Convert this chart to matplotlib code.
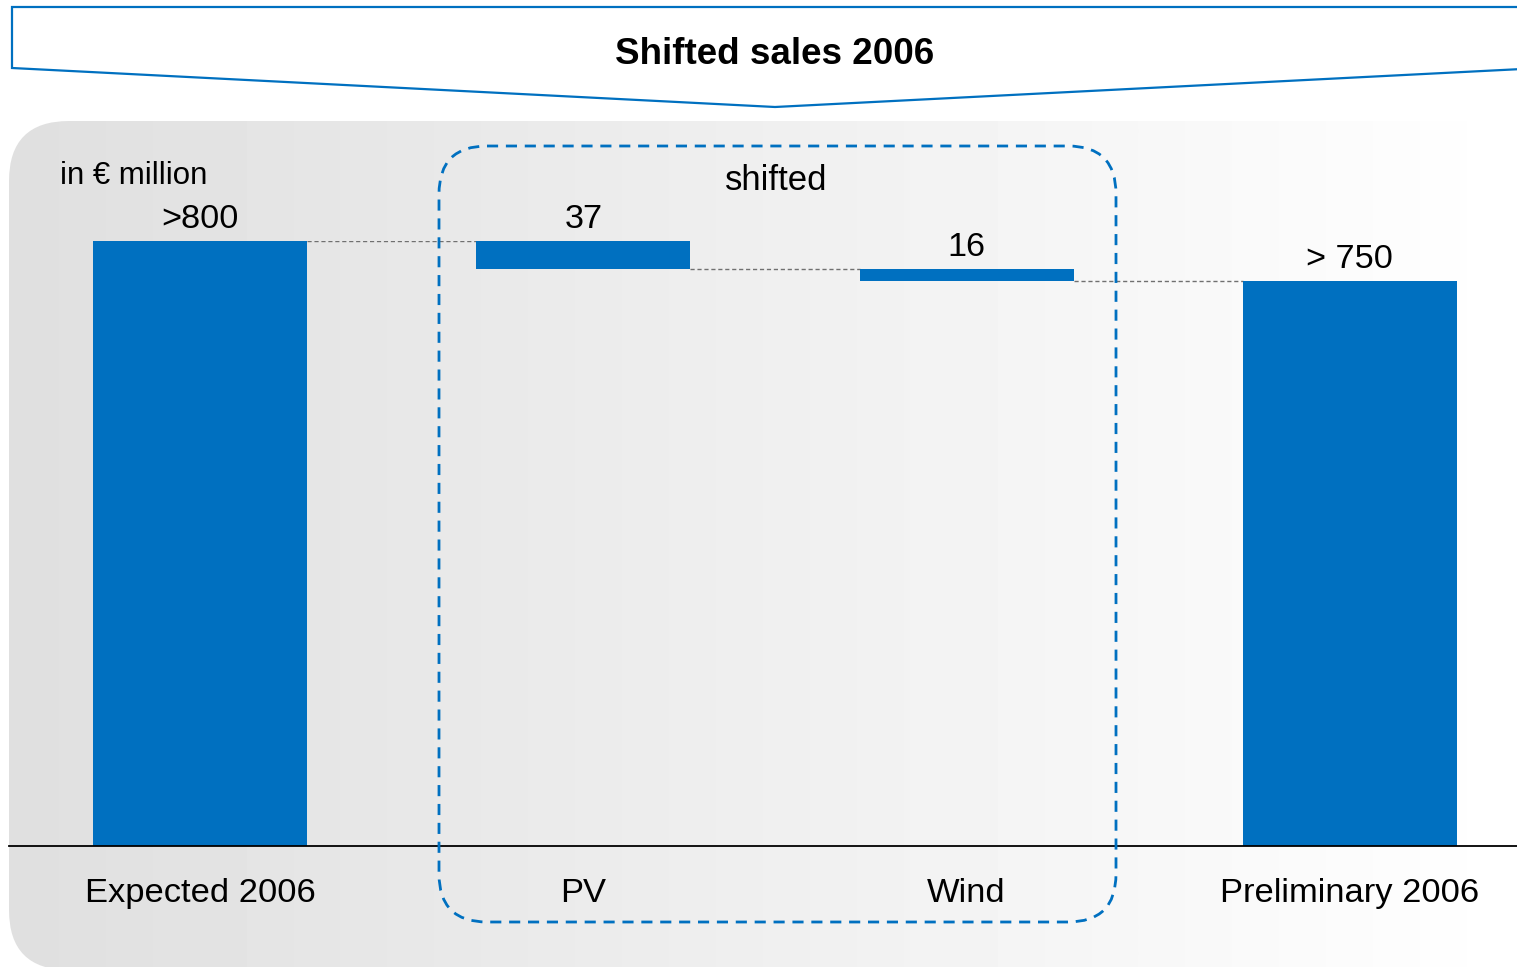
import numpy as np
import matplotlib
matplotlib.use("Agg")
import matplotlib.pyplot as plt
from matplotlib.patches import FancyBboxPatch, Polygon

# waterfall data (in EUR million)
categories = ["Expected 2006", "PV", "Wind", "Preliminary 2006"]
start_value = 800
shifts = [37, 16]
end_value = 747
value_labels = [">800", "37", "16", "> 750"]

BLUE = "#0070c0"
plt.rcParams["font.family"] = ["Liberation Sans", "DejaVu Sans"]

W, H = 1517, 967
fig = plt.figure(figsize=(W / 100, H / 100), dpi=100)

# background layer in pixel coordinates
bg = fig.add_axes([0, 0, 1, 1], zorder=0)
bg.set_xlim(0, W)
bg.set_ylim(H, 0)
bg.axis("off")
grad = np.linspace(0.875, 1.0, 256)[None, :]
im = bg.imshow(grad, cmap="gray", vmin=0, vmax=1, extent=[9, W, 970, 121],
               aspect="auto", interpolation="bilinear")
panel = FancyBboxPatch((9, 121), W + 100, 849, boxstyle="round,pad=0,rounding_size=60",
                       facecolor="none", edgecolor="none")
bg.add_patch(panel)
im.set_clip_path(panel)

# header chevron
header = Polygon([(12, 7), (W + 5, 7), (W + 5, 69), (775, 107), (12, 68)], closed=True,
                 facecolor="white", edgecolor=BLUE, lw=1.6)
bg.add_patch(header)
bg.text(775, 55, "Shifted sales 2006", ha="center", va="center", fontsize=26.5,
        fontweight="bold")

# chart axes
ax = fig.add_axes([9 / W, (H - 846) / H, (W - 9) / W, 605 / H], zorder=1)
ax.patch.set_alpha(0)
x = np.arange(len(categories))
bar_w = 0.558
levels = [start_value]
for s in shifts:
    levels.append(levels[-1] - s)
bottoms = [0] + levels[1:] + [0]
heights = [start_value] + shifts + [end_value]
tops = [b + h for b, h in zip(bottoms, heights)]
ax.bar(x, heights, bottom=bottoms, width=bar_w, color=BLUE, zorder=2)
for i in range(len(categories) - 1):
    ax.plot([x[i] + bar_w / 2, x[i + 1] - bar_w / 2], [levels[i], levels[i]],
            ls=(0, (3, 2)), color="#707070", lw=1.0, zorder=1)
for xi, t, lab in zip(x, tops, value_labels):
    ax.annotate(lab, (xi, t), xytext=(0, 9.5), textcoords="offset points",
                ha="center", va="baseline", fontsize=24.7, annotation_clip=False)
ax.set_xlim(-0.4987, 3.436)
ax.set_ylim(0, start_value)
for side in ["top", "right", "left"]:
    ax.spines[side].set_visible(False)
ax.spines["bottom"].set_linewidth(1.3)
ax.set_yticks([])
ax.set_xticks(x)
ax.set_xticklabels(categories, fontsize=24.8)
ax.tick_params(axis="x", length=0, pad=23)

# overlay: dashed group box and notes
ov = fig.add_axes([0, 0, 1, 1], zorder=2)
ov.set_xlim(0, W)
ov.set_ylim(H, 0)
ov.axis("off")
ov.patch.set_alpha(0)
box = FancyBboxPatch((439, 146), 677, 776, boxstyle="round,pad=0,rounding_size=48",
                     facecolor="none", edgecolor=BLUE, lw=2.0, ls=(0, (4, 2.8)))
ov.add_patch(box)
ov.text(60, 176, "in \u20ac million", ha="left", va="center", fontsize=22.5)
ov.text(776, 180, "shifted", ha="center", va="center", fontsize=25)

fig.savefig("out.png", dpi=100)
